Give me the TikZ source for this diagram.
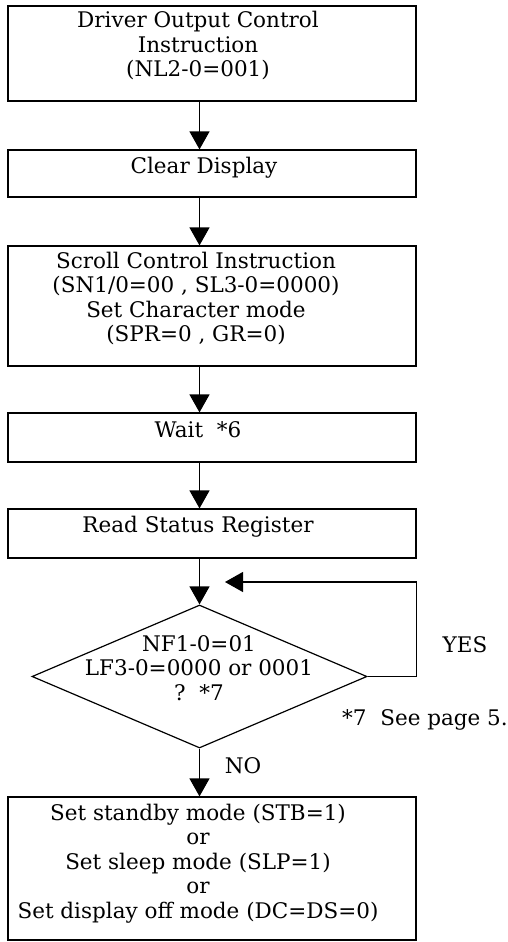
\documentclass[tikz,border=0pt]{standalone}
\usepackage{fontspec}
\setmainfont{DejaVu Serif}
\usetikzlibrary{arrows.meta,shapes.geometric}
\tikzset{
  box/.style={draw, line width=1.2pt, minimum width=408pt, inner sep=0pt},
  txt/.style={align=center, inner sep=0pt, anchor=base, font=\fontsize{21.5}{24.5}\selectfont},
  arr/.style={-{Triangle[length=18pt,width=20pt]}, line width=1.2pt}
}
\begin{document}
\begin{tikzpicture}[x=1pt, y=-1pt]
    \useasboundingbox (0,0) rectangle (508,942);

    \node [box, minimum height=95pt] (B1) at (212, 53.5) {};
    \node [box, minimum height=47pt] (B2) at (212, 173.5) {};
    \node [box, minimum height=120pt] (B3) at (212, 306) {};
    \node [box, minimum height=49pt] (B4) at (212, 437.5) {};
    \node [box, minimum height=49pt] (B5) at (212, 533.5) {};
    \node [draw, diamond, line width=1.2pt, inner sep=0pt, minimum width=335pt, minimum height=143pt] (D) at (199.5, 676.5) {};
    \node [box, minimum height=143pt] (B6) at (212, 868.5) {};
    \coordinate (L) at (225, 582);

    % multi-line texts sit on the baseline of their last line
    \node [txt] (T1) at (198, 77) {Driver Output Control\\Instruction\\(NL2-0=001)};
    \node [txt] (T2) at (204, 173) {Clear Display};
    \node [txt] (T3) at (196, 341.5) {Scroll Control Instruction\\(SN1/0=00 , SL3-0=0000)\\Set Character mode\\(SPR=0 , GR=0)};
    \node [txt] (T4) at (198, 437) {Wait\ \ *6};
    \node [txt] (T5) at (198, 532) {Read Status Register};
    \node [txt] (TD) at (199, 700) {NF1-0=01\\LF3-0=0000 or 0001\\?\ \ *7};
    \node [txt] (T6) at (198, 918) {Set standby mode (STB=1)\\or\\Set sleep mode (SLP=1)\\or\\Set display off mode (DC=DS=0)};

    \draw [arr] (B1.south -| D.north) -- (B2.north -| D.north);
    \draw [arr] (B2.south -| D.north) -- (B3.north -| D.north);
    \draw [arr] (B3.south -| D.north) -- (B4.north -| D.north);
    \draw [arr] (B4.south -| D.north) -- (B5.north -| D.north);
    \draw [arr] (B5.south -| D.north) -- (D.north);
    \draw [arr] (D.east) -- (D.east -| B5.east) |- (L);
    \draw [arr] (D.south) -- (B6.north -| D.south);
    \node [txt] (YES) at (465, 652) {YES};
    \node [txt] (NO) at (243, 773) {NO};
    \node [txt] (N7) at (425, 725) {*7\ \ See page 5.};
\end{tikzpicture}
\end{document}
